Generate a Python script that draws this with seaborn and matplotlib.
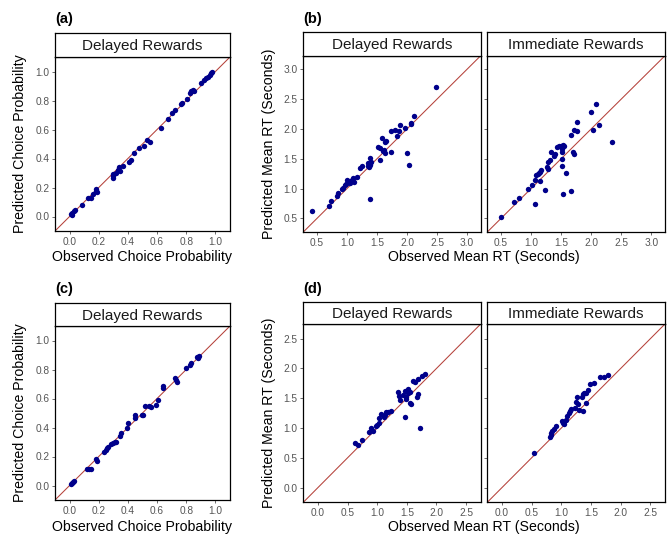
import matplotlib
matplotlib.use("Agg")
import matplotlib.pyplot as plt
import seaborn as sns
import pandas as pd
import numpy as np

# ---------------- data ----------------
a_obs = [0.007, 0.018, 0.030, 0.037, 0.014, 0.087, 0.129, 0.145, 0.161, 0.179, 0.184, 0.191,
         0.297, 0.301, 0.301, 0.317, 0.333, 0.340, 0.347, 0.368, 0.407, 0.421, 0.444, 0.478,
         0.508, 0.531, 0.549, 0.628, 0.678, 0.701, 0.726, 0.766, 0.772, 0.802, 0.825, 0.834,
         0.844, 0.853, 0.903, 0.922, 0.938, 0.949, 0.961, 0.972, 0.979]
a_pred = [0.016, 0.025, 0.035, 0.044, 0.012, 0.081, 0.127, 0.127, 0.155, 0.190, 0.174, 0.167,
          0.294, 0.280, 0.266, 0.299, 0.322, 0.340, 0.317, 0.347, 0.375, 0.387, 0.435, 0.472,
          0.484, 0.525, 0.516, 0.611, 0.669, 0.715, 0.734, 0.773, 0.780, 0.813, 0.850, 0.866,
          0.873, 0.868, 0.919, 0.942, 0.956, 0.961, 0.975, 0.988, 0.995]

b_del_obs = [0.41, 0.695, 0.729, 0.84, 0.852, 0.918, 0.93, 0.969, 0.986, 1.002, 1.013, 1.041,
             1.058, 1.086, 1.097, 1.114, 1.17, 1.22, 1.253, 1.343, 1.354, 1.365, 1.387, 1.404,
             1.387, 1.376, 1.543, 1.516, 1.555, 1.577, 1.60, 1.616, 1.633, 1.638, 1.655, 1.739,
             1.739, 1.80, 1.878, 1.862, 1.828, 1.973, 2.007, 2.04, 2.068, 2.074, 2.124, 2.48]
b_del_pred = [0.63, 0.706, 0.79, 0.873, 0.918, 0.984, 1.007, 1.051, 1.079, 1.151, 1.107, 1.096,
              1.129, 1.151, 1.185, 1.107, 1.20, 1.346, 1.38, 1.424, 1.385, 1.357, 1.396, 1.441,
              1.508, 0.817, 1.48, 1.69, 1.686, 1.842, 1.636, 1.653, 1.597, 1.786, 1.803, 1.608,
              1.964, 1.987, 2.065, 1.964, 1.875, 2.02, 1.597, 1.402, 2.098, 2.076, 2.22, 2.705]

b_imm_obs = [0.50, 0.712, 0.79, 0.946, 1.013, 1.064, 1.075, 1.108, 1.13, 1.147, 1.164, 1.064,
             1.142, 1.231, 1.259, 1.276, 1.287, 1.315, 1.331, 1.382, 1.393, 1.438, 1.466, 1.499,
             1.527, 1.544, 1.51, 1.51, 1.516, 1.51, 1.588, 1.527, 1.66, 1.705, 1.722, 1.66,
             1.717, 1.767, 1.772, 1.99, 2.03, 2.085, 2.124, 2.34]
b_imm_pred = [0.528, 0.767, 0.845, 0.984, 1.062, 1.135, 1.229, 1.246, 1.263, 1.285, 1.318, 0.745,
              1.124, 0.968, 1.369, 1.33, 1.441, 1.48, 1.619, 1.552, 1.575, 1.703, 1.719, 1.708,
              1.731, 1.719, 1.664, 1.608, 1.491, 1.385, 1.263, 0.90, 0.957, 1.608, 1.58, 1.898,
              1.987, 1.959, 2.12, 2.28, 1.98, 2.427, 2.059, 1.775]

c_obs = [0.007, 0.014, 0.023, 0.030, 0.122, 0.133, 0.145, 0.184, 0.191, 0.237, 0.248, 0.255,
         0.264, 0.283, 0.297, 0.310, 0.320, 0.347, 0.356, 0.393, 0.402, 0.448, 0.448, 0.494,
         0.506, 0.520, 0.547, 0.559, 0.595, 0.607, 0.639, 0.644, 0.720, 0.731, 0.738, 0.795,
         0.823, 0.834, 0.874, 0.880, 0.885]
c_pred = [0.012, 0.016, 0.025, 0.032, 0.113, 0.113, 0.113, 0.183, 0.171, 0.231, 0.243, 0.259,
          0.266, 0.289, 0.294, 0.299, 0.299, 0.340, 0.363, 0.394, 0.433, 0.484, 0.465, 0.484,
          0.484, 0.549, 0.549, 0.544, 0.558, 0.588, 0.688, 0.669, 0.738, 0.729, 0.715, 0.813,
          0.833, 0.843, 0.889, 0.880, 0.891]

d_del_obs = [0.624, 0.669, 0.736, 0.865, 0.888, 0.933, 0.978, 0.994, 1.034, 1.039, 1.062, 1.118,
             1.135, 1.157, 1.191, 1.23, 1.348, 1.36, 1.388, 1.438, 1.466, 1.483, 1.494, 1.528,
             1.517, 1.545, 1.472, 1.545, 1.567, 1.607, 1.64, 1.68, 1.669, 1.685, 1.73, 1.764, 1.798]
d_del_pred = [0.744, 0.716, 0.80, 0.94, 1.007, 0.951, 1.035, 1.046, 1.091, 1.163, 1.23, 1.18,
              1.219, 1.264, 1.275, 1.281, 1.605, 1.538, 1.471, 1.56, 1.622, 1.516, 1.482, 1.65,
              1.583, 1.611, 1.191, 1.415, 1.404, 1.795, 1.778, 1.818, 1.516, 1.572, 1.001, 1.879, 1.913]

d_imm_obs = [0.545, 0.809, 0.82, 0.831, 0.848, 0.876, 0.904, 1.006, 1.034, 1.051, 1.073, 1.101,
             1.129, 1.146, 1.169, 1.23, 1.253, 1.27, 1.275, 1.298, 1.348, 1.365, 1.388, 1.421,
             1.41, 1.371, 1.455, 1.483, 1.556, 1.652, 1.725, 1.781]
d_imm_pred = [0.582, 0.856, 0.889, 0.923, 0.956, 0.979, 1.035, 1.124, 1.091, 1.068, 1.135, 1.202,
              1.247, 1.286, 1.314, 1.342, 1.443, 1.527, 1.404, 1.303, 1.516, 1.572, 1.594, 1.583,
              1.415, 1.292, 1.639, 1.739, 1.751, 1.851, 1.862, 1.89]

prob_ticks = [0.0, 0.2, 0.4, 0.6, 0.8, 1.0]
rt_ticks_b = [0.5, 1.0, 1.5, 2.0, 2.5, 3.0]
rt_ticks_d = [0.0, 0.5, 1.0, 1.5, 2.0, 2.5]

# ---------------- style ----------------
sns.set_theme(style="white")
plt.rcParams['font.family'] = ['Liberation Sans', 'DejaVu Sans']

W, H = 667, 537
fig = plt.figure(figsize=(W / 100, H / 100), dpi=100)
fig.patch.set_facecolor("white")

PT_COLOR = "#00008B"
LINE_COLOR = "#B5413A"
TICK_COLOR = "#555555"


def rect(l, t, r, b):
    return [l / W, 1 - b / H, (r - l) / W, (b - t) / H]


def panel(l, t, r, b, strip_top, obs, pred, lim, ticks, title, show_y=True):
    ax = fig.add_axes(rect(l, t, r, b))
    df = pd.DataFrame({"obs": obs, "pred": pred})
    ax.axline((0, 0), slope=1, color=LINE_COLOR, lw=0.75, zorder=1)
    sns.scatterplot(data=df, x="obs", y="pred", ax=ax, color=PT_COLOR, s=15,
                    linewidth=0, zorder=3, legend=False)
    ax.set_xlim(lim)
    ax.set_ylim(lim)
    ax.set_xticks(ticks)
    ax.set_xticklabels([f"{v:.1f}" for v in ticks])
    ax.set_yticks(ticks)
    if show_y:
        ax.set_yticklabels([f"{v:.1f}" for v in ticks])
    else:
        ax.set_yticklabels([])
    ax.tick_params(axis="both", which="both", direction="out", length=2.5, width=0.5,
                   color="#333333", labelcolor=TICK_COLOR, labelsize=7.3, pad=1.5,
                   bottom=True, left=True)
    if not show_y:
        ax.tick_params(axis="y", left=True, labelleft=False)
    for sp in ax.spines.values():
        sp.set_visible(True)
        sp.set_color("black")
        sp.set_linewidth(0.9)
    ax.set_xlabel("")
    ax.set_ylabel("")
    ax.set_facecolor("white")
    # strip
    sax = fig.add_axes(rect(l, strip_top, r, t))
    sax.set_xticks([])
    sax.set_yticks([])
    for sp in sax.spines.values():
        sp.set_visible(True)
        sp.set_color("black")
        sp.set_linewidth(0.9)
    sax.set_facecolor("white")
    sax.text(0.5, 0.45, title, ha="center", va="center", fontsize=11, color="#1A1A1A",
             transform=sax.transAxes)
    return ax


lim_a = (-0.1, 1.1)
lim_b = (0.27, 3.23)
lim_d = (-0.245, 2.745)

panel(55, 57, 230, 231, 33, a_obs, a_pred, lim_a, prob_ticks, "Delayed Rewards")
panel(303.3, 55.7, 480.7, 232, 32, b_del_obs, b_del_pred, lim_b, rt_ticks_b, "Delayed Rewards")
panel(487.3, 55.7, 665, 232, 32, b_imm_obs, b_imm_pred, lim_b, rt_ticks_b, "Immediate Rewards",
      show_y=False)
panel(55, 326, 230, 500, 302.7, c_obs, c_pred, lim_a, prob_ticks, "Delayed Rewards")
panel(303.3, 324, 480.7, 502.3, 301.7, d_del_obs, d_del_pred, lim_d, rt_ticks_d, "Delayed Rewards")
panel(487.3, 324, 665, 502.3, 301.7, d_imm_obs, d_imm_pred, lim_d, rt_ticks_d, "Immediate Rewards",
      show_y=False)


def ftext(x, y, s, **kw):
    fig.text(x / W, 1 - y / H, s, **kw)


# panel letters
for (x, y, s) in [(55, 19.5, "(a)"), (303, 19.5, "(b)"), (55, 289.5, "(c)"), (303, 289.5, "(d)")]:
    ftext(x, y, s, ha="left", va="center", fontsize=10.5, fontweight="bold", color="black")

# axis titles
ftext(142.5, 256.5, "Observed Choice Probability", ha="center", va="center", fontsize=10.2,
      color="black")
ftext(142.5, 526.5, "Observed Choice Probability", ha="center", va="center", fontsize=10.2,
      color="black")
ftext(484, 256.5, "Observed Mean RT (Seconds)", ha="center", va="center", fontsize=10.2,
      color="black")
ftext(484, 526.5, "Observed Mean RT (Seconds)", ha="center", va="center", fontsize=10.2,
      color="black")
ftext(20.5, 144, "Predicted Choice Probability", ha="center", va="center", rotation=90,
      fontsize=10.2, color="black")
ftext(20.5, 413, "Predicted Choice Probability", ha="center", va="center", rotation=90,
      fontsize=10.2, color="black")
ftext(269.5, 144, "Predicted Mean RT (Seconds)", ha="center", va="center", rotation=90,
      fontsize=10.2, color="black")
ftext(269.5, 413, "Predicted Mean RT (Seconds)", ha="center", va="center", rotation=90,
      fontsize=10.2, color="black")

fig.savefig("out.png", dpi=100, facecolor="white")
